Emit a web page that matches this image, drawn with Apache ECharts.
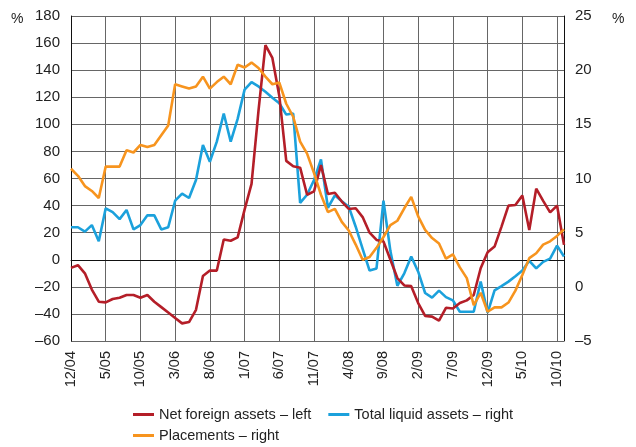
<!DOCTYPE html>
<html lang="en">
<head>
    <meta charset="UTF-8">
    <script src="https://cdn.jsdelivr.net/npm/echarts@6/dist/echarts.min.js"></script>
    <title>Foreign assets</title>
    <style>
        html, body { margin: 0; padding: 0; background: #fff; }
        #chart { width: 636px; height: 447px; }
    </style>
</head>
<body>
<div id="chart"></div>
<script>
    // months 12/04 .. 11/10
    const months = [
        '12/04', '1/05', '2/05', '3/05', '4/05', '5/05', '6/05', '7/05', '8/05', '9/05', '10/05', '11/05',
        '12/05', '1/06', '2/06', '3/06', '4/06', '5/06', '6/06', '7/06', '8/06', '9/06', '10/06', '11/06',
        '12/06', '1/07', '2/07', '3/07', '4/07', '5/07', '6/07', '7/07', '8/07', '9/07', '10/07', '11/07',
        '12/07', '1/08', '2/08', '3/08', '4/08', '5/08', '6/08', '7/08', '8/08', '9/08', '10/08', '11/08',
        '12/08', '1/09', '2/09', '3/09', '4/09', '5/09', '6/09', '7/09', '8/09', '9/09', '10/09', '11/09',
        '12/09', '1/10', '2/10', '3/10', '4/10', '5/10', '6/10', '7/10', '8/10', '9/10', '10/10', '11/10'
    ]

    // left axis, %
    const netForeign = [
        -6, -4, -10, -22, -31, -31.5, -29, -28, -26, -26, -28, -26,
        -31, -35, -39, -43, -47, -46, -37, -12, -8, -8, 15, 14,
        16.5, 37, 56, 110, 158.5, 149, 121, 73, 69, 68, 48, 50.5,
        70, 48.5, 49.5, 43, 37.5, 38, 31.5, 20, 14.6, 13.5, 0, -13.5,
        -19, -19.5, -32, -41.5, -42, -45, -35.5, -36, -32, -30, -26, -6.3,
        5.5, 9.7, 24.5, 40, 40.4, 47.5, 22, 52.5, 43.5, 35, 40, 11
    ]

    // right axis, %
    const placements = [
        10.9, 10.25, 9.3, 8.85, 8.2, 11.1, 11.1, 11.1, 12.6, 12.4, 13.1, 12.9,
        13.1, 14.0, 14.9, 18.7, 18.5, 18.3, 18.5, 19.4, 18.3, 18.9, 19.4, 18.7,
        20.5, 20.25, 20.7, 20.2, 19.4, 18.7, 18.85, 16.9, 15.7, 13.4, 12.3, 10.5,
        8.5, 6.9, 7.2, 6.0, 5.2, 3.9, 2.5, 2.75, 3.6, 4.6, 5.7, 6.1,
        7.25, 8.3, 6.5, 5.25, 4.5, 4.0, 2.6, 3.0, 1.8, 0.8, -1.7, -0.55,
        -2.3, -1.9, -1.9, -1.45, -0.35, 1.1, 2.65, 3.1, 3.9, 4.2, 4.7, 5.3
    ]

    const liquidAssets = [
        5.5, 5.5, 5.1, 5.7, 4.2, 7.25, 6.9, 6.25, 7.1, 5.3, 5.7, 6.6,
        6.6, 5.3, 5.5, 7.95, 8.6, 8.2, 9.86, 13.1, 11.55, 13.4, 16.0, 13.4,
        15.5, 18.2, 18.9, 18.5, 18.0, 17.45, 16.95, 15.9, 16.0, 7.75, 8.5, 9.86,
        11.75, 7.3, 8.45, 7.9, 7.4, 5.55, 3.5, 1.5, 1.7, 7.95, 3.3, 0.1,
        1.25, 2.8, 1.4, -0.57, -1.0, -0.35, -0.95, -1.25, -2.3, -2.3, -2.3, 0.5,
        -2.4, -0.33, 0.07, 0.48, 0.97, 1.5, 2.4, 1.7, 2.3, 2.6, 3.8, 2.8
    ]

    const FONT = '"Liberation Sans Narrow", "Arial Narrow", "Liberation Sans", Arial, sans-serif'
    const RED = '#b41e28'
    const BLUE = '#1ba1dc'
    const ORANGE = '#f7941e'

    function dash(v) {
        return String(v).replace('-', '\u2013')
    }

    var chart = echarts.init(document.getElementById('chart'), null, {renderer: 'canvas'})

    var option = {
        animation: false,
        grid: {left: 71, right: 72, top: 16, bottom: 106},
        textStyle: {fontFamily: FONT},
        legend: [
            {
                left: 128, top: 402,
                itemWidth: 21, itemHeight: 3, itemGap: 17,
                icon: 'rect',
                textStyle: {fontFamily: FONT, fontSize: 14.5, color: '#222'},
                data: ['Net foreign assets \u2013 left', 'Total liquid assets \u2013 right']
            },
            {
                left: 128, top: 423,
                itemWidth: 21, itemHeight: 3,
                icon: 'rect',
                textStyle: {fontFamily: FONT, fontSize: 14.5, color: '#222'},
                data: ['Placements \u2013 right']
            }
        ],
        graphic: [
            {type: 'text', left: 11, top: 12, style: {text: '%', font: '14px ' + FONT, fill: '#222'}},
            {type: 'text', left: 612, top: 12, style: {text: '%', font: '14px ' + FONT, fill: '#222'}}
        ],
        xAxis: {
            type: 'category',
            data: months,
            boundaryGap: false,
            axisLine: {lineStyle: {color: '#111', width: 1}},
            axisTick: {show: false},
            axisLabel: {
                interval: 4, rotate: 90, margin: 10,
                fontFamily: FONT, fontSize: 14.5, color: '#222'
            },
            splitLine: {show: true, interval: 4, lineStyle: {color: '#666', width: 1}}
        },
        yAxis: [
            {
                type: 'value', min: -60, max: 180, interval: 20,
                axisLine: {show: true, lineStyle: {color: '#111'}},
                axisTick: {show: false},
                axisLabel: {margin: 11, fontFamily: FONT, fontSize: 15, color: '#222', formatter: dash},
                splitLine: {show: true, lineStyle: {color: '#666', width: 1}}
            },
            {
                type: 'value', min: -5, max: 25, interval: 5,
                axisLine: {show: true, lineStyle: {color: '#111'}},
                axisTick: {show: false},
                axisLabel: {margin: 11, fontFamily: FONT, fontSize: 15, color: '#222', formatter: dash},
                splitLine: {show: false}
            }
        ],
        series: [
            {
                name: 'Net foreign assets \u2013 left', type: 'line', yAxisIndex: 0,
                data: netForeign, showSymbol: false, z: 3,
                itemStyle: {color: RED}, lineStyle: {color: RED, width: 2.6}
            },
            {
                name: 'Total liquid assets \u2013 right', type: 'line', yAxisIndex: 1,
                data: liquidAssets, showSymbol: false, z: 2,
                itemStyle: {color: BLUE}, lineStyle: {color: BLUE, width: 2.6}
            },
            {
                name: 'Placements \u2013 right', type: 'line', yAxisIndex: 1,
                data: placements, showSymbol: false, z: 4,
                itemStyle: {color: ORANGE}, lineStyle: {color: ORANGE, width: 2.6}
            }
        ]
    }
    chart.setOption(option)
</script>
</body>
</html>
